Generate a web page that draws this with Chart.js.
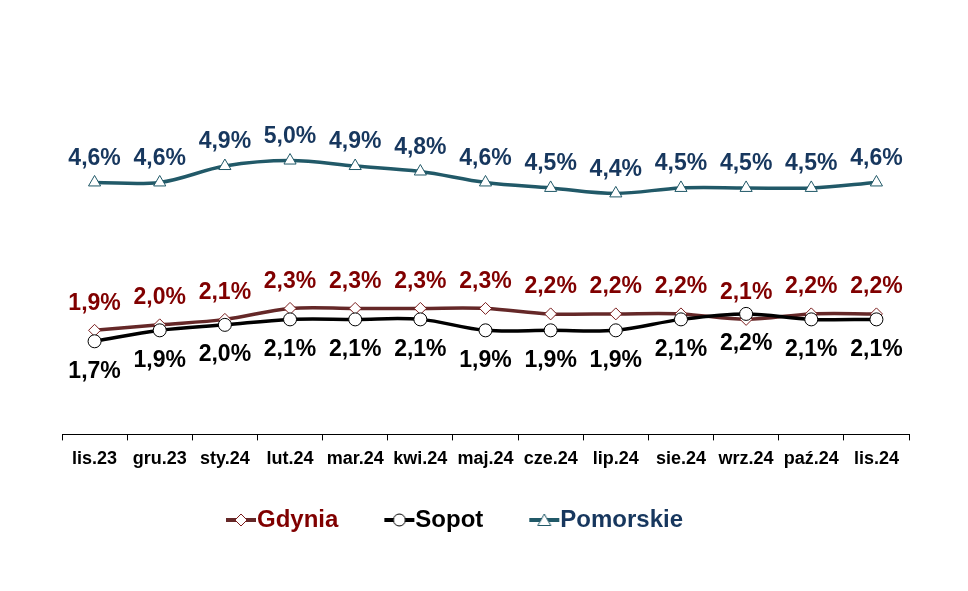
<!DOCTYPE html>
<html>
<head>
<meta charset="utf-8">
<script src="https://cdn.jsdelivr.net/npm/chart.js@4/dist/chart.umd.min.js"></script>
<style>
  body { margin: 0; background: #fff; }
  canvas { display: block; }
</style>
</head>
<body>
<canvas id="rateChart" width="968" height="591"></canvas>
<script>
var months = ['lis.23', 'gru.23', 'sty.24', 'lut.24', 'mar.24', 'kwi.24', 'maj.24', 'cze.24', 'lip.24', 'sie.24', 'wrz.24', 'paź.24', 'lis.24'];
var gdyniaValues = [1.9, 2.0, 2.1, 2.3, 2.3, 2.3, 2.3, 2.2, 2.2, 2.2, 2.1, 2.2, 2.2];
var sopotValues = [1.7, 1.9, 2.0, 2.1, 2.1, 2.1, 1.9, 1.9, 1.9, 2.1, 2.2, 2.1, 2.1];
var pomorskieValues = [4.6, 4.6, 4.9, 5.0, 4.9, 4.8, 4.6, 4.5, 4.4, 4.5, 4.5, 4.5, 4.6];

var FONT = '"Liberation Sans", Arial, sans-serif';

// legend icon: short line with the marker in the middle, drawn in the right part of a wider canvas
function legendIcon(lineColor, borderColor, style) {
    var c = document.createElement('canvas');
    c.width = 59; c.height = 16;
    var g = c.getContext('2d');
    var cx = 43;
    g.strokeStyle = lineColor;
    g.lineWidth = 4;
    g.beginPath(); g.moveTo(28, 8); g.lineTo(58, 8); g.stroke();
    g.fillStyle = '#fff';
    g.strokeStyle = borderColor;
    g.lineWidth = 1;
    g.beginPath();
    if (style === 'circle') {
        g.arc(cx, 8, 6, 0, Math.PI * 2);
    } else if (style === 'diamond') {
        g.moveTo(cx, 2); g.lineTo(cx + 6, 8); g.lineTo(cx, 14); g.lineTo(cx - 6, 8); g.closePath();
    } else {
        g.moveTo(cx, 2); g.lineTo(cx + 6.5, 13.5); g.lineTo(cx - 6.5, 13.5); g.closePath();
    }
    g.fill(); g.stroke();
    return c;
}

var valueLabels = {
    id: 'valueLabels',
    afterDatasetsDraw: function(chart) {
        var ctx = chart.ctx;
        ctx.save();
        ctx.font = 'bold 23px ' + FONT;
        ctx.textAlign = 'center';
        ctx.textBaseline = 'middle';
        chart.data.datasets.forEach(function(ds, i) {
            var meta = chart.getDatasetMeta(i);
            ctx.fillStyle = ds.labelColor;
            meta.data.forEach(function(pt, j) {
                var txt = ds.data[j].toFixed(1).replace('.', ',') + '%';
                ctx.fillText(txt, pt.x, pt.y + ds.labelShift);
            });
        });
        ctx.restore();
    }
};

// legend in the original sits a bit left of the plot centre
var legendShift = {
    id: 'legendShift',
    afterLayout: function(chart) {
        chart.legend.left -= 39;
        chart.legend.right -= 39;
    }
};

var ctx = document.getElementById('rateChart').getContext('2d');
var chart = new Chart(ctx, {
    type: 'line',
    data: {
        labels: months,
        datasets: [{
            label: 'Gdynia',
            data: gdyniaValues,
            borderColor: '#652828',
            borderWidth: 3.5,
            pointStyle: 'rectRot',
            pointRadius: 6,
            pointBackgroundColor: '#fff',
            pointBorderColor: '#7a1c1c',
            pointBorderWidth: 1,
            tension: 0.35,
            order: 1,
            labelColor: '#800000',
            labelShift: -27,
            icon: legendIcon('#652828', '#7a1c1c', 'diamond')
        }, {
            label: 'Sopot',
            data: sopotValues,
            borderColor: '#000',
            borderWidth: 3.5,
            pointStyle: 'circle',
            pointRadius: 6.5,
            pointBackgroundColor: '#fff',
            pointBorderColor: '#000',
            pointBorderWidth: 1,
            tension: 0.35,
            order: 0,
            labelColor: '#000',
            labelShift: 30,
            icon: legendIcon('#000', '#000', 'circle')
        }, {
            label: 'Pomorskie',
            data: pomorskieValues,
            borderColor: '#215968',
            borderWidth: 3.5,
            pointStyle: 'triangle',
            pointRadius: 7,
            pointBackgroundColor: '#fff',
            pointBorderColor: '#215968',
            pointBorderWidth: 1,
            tension: 0.35,
            order: 2,
            labelColor: '#17375E',
            labelShift: -24,
            icon: legendIcon('#215968', '#215968', 'triangle')
        }]
    },
    options: {
        responsive: false,
        animation: false,
        layout: { padding: { top: 51, left: 62, right: 59, bottom: 49 } },
        scales: {
            x: {
                offset: true,
                grid: { offset: true, drawOnChartArea: false, color: '#000', tickLength: 6 },
                border: { display: true, color: '#000', width: 1 },
                ticks: { color: '#000', padding: 8, font: { family: FONT, size: 18, weight: 'bold' } }
            },
            y: { display: false, min: 0, max: 7 }
        },
        plugins: {
            tooltip: { enabled: false },
            legend: {
                position: 'bottom',
                labels: {
                    usePointStyle: true,
                    pointStyleWidth: 35,
                    padding: 30,
                    font: { family: FONT, size: 24, weight: 'bold' },
                    generateLabels: function(chart) {
                        return chart.data.datasets.map(function(ds, i) {
                            return {
                                text: ds.label,
                                pointStyle: ds.icon,
                                fontColor: ds.labelColor,
                                fillStyle: '#fff',
                                strokeStyle: ds.borderColor,
                                lineWidth: 0,
                                hidden: false,
                                datasetIndex: i
                            };
                        });
                    }
                }
            }
        }
    },
    plugins: [valueLabels, legendShift]
});
</script>
</body>
</html>
